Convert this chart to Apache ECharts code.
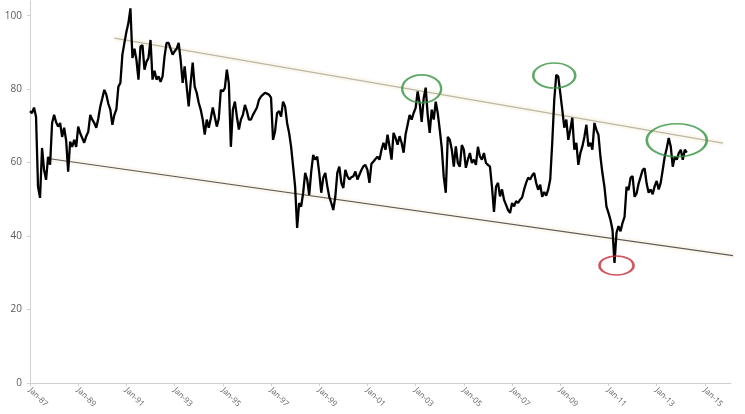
<!DOCTYPE html>
<html>
<head>
<meta charset="utf-8">
<script src="https://cdn.jsdelivr.net/npm/echarts@6/dist/echarts.min.js"></script>
<style>html,body{margin:0;padding:0;background:#fff}#c{width:745px;height:414px}</style>
</head>
<body>
<div id="c"></div>
<script>
// Monthly series starting Jan 1987
const startYear = 1987;
const values = [
  74, 73.5, 75, 72.5, 53.4, 50.4, 64, 58, 55.3, 61.6, 59.4, 70.8,
  73, 71, 69.8, 70.8, 67, 69.5, 66, 57.5, 65.7, 64.3, 66.2, 64.3,
  69.8, 68, 66.7, 65.4, 67.2, 68.4, 73, 71.7, 70.8, 69.5, 72, 75.3,
  77.5, 79.8, 78.5, 76, 74.4, 70.3, 73, 74.5, 80.7, 81.7, 89.4, 92.6,
  95.6, 98, 102, 88.5, 91, 88, 82.6, 91.6, 92, 85.3, 87.5, 88.5,
  93.4, 82.6, 85, 82.6, 83.5, 82, 83.5, 89, 92.6, 92.6, 91, 89.4,
  90.3, 91, 92.6, 88, 81.7, 86.2, 80.7, 75.3, 81.7, 87.2, 80.7, 79,
  76.3, 74.4, 71.7, 67.6, 71.7, 69.5, 72, 75, 72.5, 69.8, 72, 79.8,
  79.4, 80.3, 85.3, 81.5, 64.3, 74.4, 76.6, 72.5, 69, 71.7, 73, 75.7,
  74, 71.7, 71.7, 73, 74, 75, 77.1, 78, 78.5, 79, 78.8, 78.5,
  77.7, 66.2, 68.5, 73.5, 74, 72.5, 76.6, 75.3, 70.8, 68.1, 64.3, 58.9,
  53.4, 42.2, 49, 48, 51.8, 57.2, 55.4, 51.2, 57.5, 62.1, 60.8, 61.6,
  57.2, 51.8, 55.9, 57.2, 53.6, 50.7, 49, 47.1, 50.7, 57.2, 58.9, 54.5,
  53.1, 58, 56.3, 55.4, 56, 56.3, 57.6, 55.4, 56.7, 58, 59, 59.4,
  58, 54.5, 59.7, 60.3, 61, 61.6, 60.8, 63.5, 65.4, 63.5, 67.6, 64.4,
  60.8, 68.1, 66.7, 64.9, 67.2, 65.4, 62.7, 67.7, 70.3, 73, 71.7, 73.5,
  74.9, 79.4, 76.2, 71.1, 77.5, 80.4, 73, 68.1, 74.4, 71.7, 76.6, 73.5,
  69, 64, 56.1, 51.8, 67, 66.2, 63.5, 58.9, 64.4, 59.9, 58.9, 64.8,
  63.5, 58.6, 60.8, 62.6, 59.9, 60.8, 59.4, 64.3, 61.7, 60.8, 62.6, 59.9,
  59.4, 58.9, 53.4, 46.6, 53.4, 54.5, 50.8, 52.7, 49.9, 48.5, 47.1, 46.3,
  49, 48.1, 49.5, 49, 49.9, 50.5, 52.7, 54.5, 55.9, 55.4, 56.5, 57.2,
  54.5, 52.6, 54, 50.7, 52, 51, 52.7, 55.4, 65.4, 77, 83.9, 83.4,
  78.9, 74.4, 69.5, 71.7, 66.2, 69, 72.2, 63.5, 65.4, 59.4, 62.6, 64.4,
  67, 70.3, 64.4, 65.4, 63.5, 70.8, 68.9, 67.6, 61.6, 57.1, 53.4, 48,
  46.3, 44.4, 41.7, 32.7, 40.9, 42.7, 41.3, 43.6, 45.2, 53.4, 52.5, 55.9,
  56.3, 50.7, 51.6, 54.3, 56.1, 58, 58.4, 54.3, 51.8, 52.7, 51.4, 53.6,
  55, 52.7, 54.5, 58, 61.6, 63.9, 66.7, 64.4, 58.9, 61.6, 60.8, 62.6,
  63.5, 60.8, 63.5, 62.7
];
const tickLabels = ['Jan-87','Jan-89','Jan-91','Jan-93','Jan-95','Jan-97','Jan-99','Jan-01',
  'Jan-03','Jan-05','Jan-07','Jan-09','Jan-11','Jan-13','Jan-15'];
const axisEnd = '2016-02';
const yMin = 0, yMax = 104, yStep = 20;

const upperTrendDates = ['1990-07', '2015-10'];
const upperTrendValues = [93.9, 65.3];
const lowerTrendDates = ['1987-10', '2016-04'];
const lowerTrendValues = [61.1, 34.6];

const peakDates = ['2003-04', '2008-10', '2013-11'];
const peakValues = [80.1, 83.7, 66.1];
const troughDates = ['2011-05'];
const troughValues = [32];

function monthIndex(s) {
  const p = s.split('-').map(Number);
  return (p[0] - startYear) * 12 + (p[1] - 1);
}
const pairs = (dates, vals) => dates.map((d, i) => [monthIndex(d), vals[i]]);

const mainData = values.map((v, i) => [i, v]);
const ellipse = 'path://M0,50 A50,50 0 1,1 100,50 A50,50 0 1,1 0,50 Z';
const peakSizes = [[39, 28], [42, 25], [60, 33]];

const chart = echarts.init(document.getElementById('c'), null, {renderer: 'canvas'});
chart.setOption({
  animation: false,
  backgroundColor: '#ffffff',
  grid: {left: 30, right: 14, top: 1, bottom: 31, containLabel: false},
  xAxis: {
    type: 'value', min: 0, max: monthIndex(axisEnd), interval: 24,
    splitLine: {show: false},
    axisLine: {show: true, lineStyle: {color: '#d0d0d0', width: 1}},
    axisTick: {show: true, length: 3, lineStyle: {color: '#d0d0d0'}},
    axisLabel: {
      rotate: -45, fontSize: 8, color: '#666666', margin: 6, fontFamily: 'Open Sans',
      showMaxLabel: false,
      formatter: v => (v % 24 === 0 && tickLabels[v / 24]) ? tickLabels[v / 24] : ''
    }
  },
  yAxis: {
    type: 'value', min: yMin, max: yMax, interval: yStep,
    splitLine: {show: false},
    axisLine: {show: true, lineStyle: {color: '#d0d0d0', width: 1}},
    axisTick: {show: true, length: 3, lineStyle: {color: '#d0d0d0'}},
    axisLabel: {
      fontSize: 10, color: '#595959', margin: 8, fontFamily: 'Open Sans',
      showMaxLabel: false,
      formatter: v => (v % yStep === 0 ? String(v) : '')
    }
  },
  series: [
    {type: 'line', data: pairs(upperTrendDates, upperTrendValues), symbol: 'none', clip: false, silent: true,
     lineStyle: {color: '#fdf8ee', width: 6}, z: 1},
    {type: 'line', data: pairs(lowerTrendDates, lowerTrendValues), symbol: 'none', clip: false, silent: true,
     lineStyle: {color: '#fdf8ee', width: 6}, z: 1},
    {type: 'line', data: pairs(upperTrendDates, upperTrendValues), symbol: 'none', clip: false, silent: true,
     lineStyle: {color: '#b9b8a8', width: 1.3}, z: 2},
    {type: 'line', data: pairs(lowerTrendDates, lowerTrendValues), symbol: 'none', clip: false, silent: true,
     lineStyle: {color: '#5a5a5a', width: 1.1}, z: 2},
    {type: 'line', data: mainData, symbol: 'none', silent: true,
     lineStyle: {color: '#000000', width: 2.3}, z: 3},
    {type: 'scatter', data: pairs(peakDates, peakValues).map((p, i) => ({value: p, symbolSize: peakSizes[i]})),
     symbol: ellipse, silent: true, clip: false,
     itemStyle: {color: 'rgba(0,0,0,0)', borderColor: '#35943f', borderWidth: 2}, z: 4},
    {type: 'scatter', data: pairs(troughDates, troughValues), symbol: ellipse, symbolSize: [34, 19],
     silent: true, clip: false,
     itemStyle: {color: 'rgba(0,0,0,0)', borderColor: '#c42c36', borderWidth: 2}, z: 4}
  ]
});
</script>
</body>
</html>
